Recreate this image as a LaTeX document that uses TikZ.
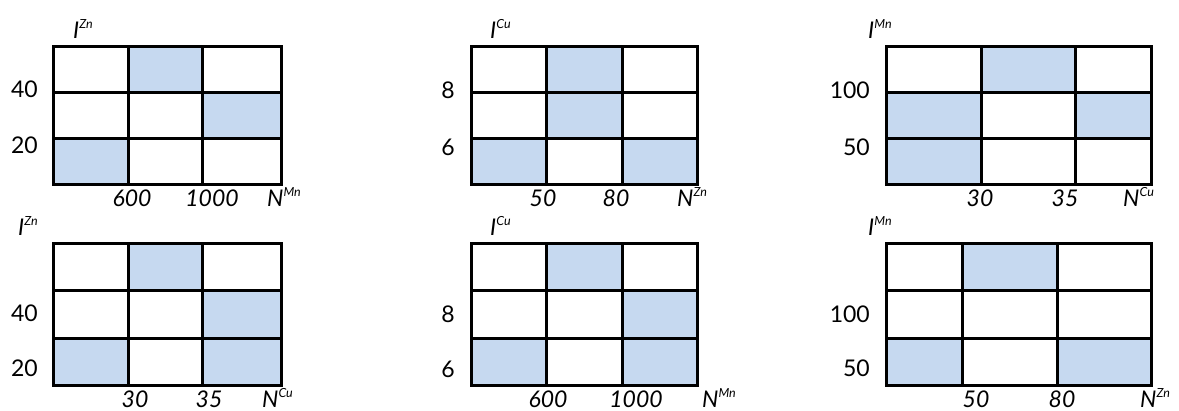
\documentclass[tikz,border=0pt]{standalone}
\usepackage{fontspec}
\setmainfont{Lato}
\definecolor{cellblue}{RGB}{198,217,240}
\newcommand{\qty}[2]{\textit{#1}\raisebox{10pt}{\fontsize{12.5}{13}\selectfont\itshape #2}}
\tikzset{
  cell/.style={fill=cellblue},
  gridline/.style={line width=3pt},
  ylab/.style={anchor=east, inner sep=0pt, font=\fontsize{23}{26}\selectfont},
  xlab/.style={anchor=base, inner sep=0pt, font=\fontsize{23}{26}\selectfont\itshape},
  axlab/.style={anchor=base west, inner sep=0pt, font=\fontsize{23}{26}\selectfont},
}
\begin{document}
\begin{tikzpicture}[x=1pt, y=-1pt]
    \useasboundingbox (0,0) rectangle (1179,410);

    % Zn against Mn
    \fill[cell] (128,46) rectangle (202,92);
    \fill[cell] (202,92) rectangle (281,138);
    \fill[cell] (53,138) rectangle (128,184);
    \draw[gridline] (53,46) rectangle (281,184);
    \foreach \x in {128,202} \draw[gridline] (\x,46) -- (\x,184);
    \foreach \y in {92,138} \draw[gridline] (53,\y) -- (281,\y);
    \node[axlab] (zmI) at (73,38) {\qty{I}{Zn}};
    \node[ylab] (zmY1) at (38,89.5) {40};
    \node[ylab] (zmY2) at (38,145.5) {20};
    \node[xlab] (zmX1) at (132,206) {600};
    \node[xlab] (zmX2) at (212,206) {1000};
    \node[axlab] (zmN) at (267,206) {\qty{N}{Mn}};

    % Zn against Cu
    \fill[cell] (128,243) rectangle (202,290);
    \fill[cell] (202,290) rectangle (281,338);
    \fill[cell] (53,338) rectangle (128,385);
    \fill[cell] (202,338) rectangle (281,385);
    \draw[gridline] (53,243) rectangle (281,385);
    \foreach \x in {128,202} \draw[gridline] (\x,243) -- (\x,385);
    \foreach \y in {290,338} \draw[gridline] (53,\y) -- (281,\y);
    \node[axlab] (zcI) at (18,235) {\qty{I}{Zn}};
    \node[ylab] (zcY1) at (38,313) {40};
    \node[ylab] (zcY2) at (38,368) {20};
    \node[xlab] (zcX1) at (135,407) {30};
    \node[xlab] (zcX2) at (209,407) {35};
    \node[axlab] (zcN) at (262,407) {\qty{N}{Cu}};

    % Cu against Zn
    \fill[cell] (546,46) rectangle (622,92);
    \fill[cell] (546,92) rectangle (622,138);
    \fill[cell] (471,138) rectangle (546,184);
    \fill[cell] (622,138) rectangle (697,184);
    \draw[gridline] (471,46) rectangle (697,184);
    \foreach \x in {546,622} \draw[gridline] (\x,46) -- (\x,184);
    \foreach \y in {92,138} \draw[gridline] (471,\y) -- (697,\y);
    \node[axlab] (czI) at (490,38) {\qty{I}{Cu}};
    \node[ylab] (czY1) at (455,90) {8};
    \node[ylab] (czY2) at (455,147) {6};
    \node[xlab] (czX1) at (543,206) {50};
    \node[xlab] (czX2) at (616,206) {80};
    \node[axlab] (czN) at (677,206) {\qty{N}{Zn}};

    % Cu against Mn
    \fill[cell] (546,243) rectangle (622,290);
    \fill[cell] (622,290) rectangle (697,338);
    \fill[cell] (471,338) rectangle (546,385);
    \fill[cell] (622,338) rectangle (697,385);
    \draw[gridline] (471,243) rectangle (697,385);
    \foreach \x in {546,622} \draw[gridline] (\x,243) -- (\x,385);
    \foreach \y in {290,338} \draw[gridline] (471,\y) -- (697,\y);
    \node[axlab] (cmI) at (490,235) {\qty{I}{Cu}};
    \node[ylab] (cmY1) at (455,314) {8};
    \node[ylab] (cmY2) at (455,369) {6};
    \node[xlab] (cmX1) at (548,407) {600};
    \node[xlab] (cmX2) at (636,407) {1000};
    \node[axlab] (cmN) at (702,407) {\qty{N}{Mn}};

    % Mn against Cu
    \fill[cell] (981,46) rectangle (1075,92);
    \fill[cell] (886,92) rectangle (981,138);
    \fill[cell] (1075,92) rectangle (1151,138);
    \fill[cell] (886,138) rectangle (981,184);
    \draw[gridline] (886,46) rectangle (1151,184);
    \foreach \x in {981,1075} \draw[gridline] (\x,46) -- (\x,184);
    \foreach \y in {92,138} \draw[gridline] (886,\y) -- (1151,\y);
    \node[axlab] (mcI) at (868,38) {\qty{I}{Mn}};
    \node[ylab] (mcY1) at (870,90) {100};
    \node[ylab] (mcY2) at (870,147) {50};
    \node[xlab] (mcX1) at (980,206) {30};
    \node[xlab] (mcX2) at (1065,206) {35};
    \node[axlab] (mcN) at (1123,206) {\qty{N}{Cu}};

    % Mn against Zn
    \fill[cell] (962,243) rectangle (1057,290);
    \fill[cell] (886,338) rectangle (962,385);
    \fill[cell] (1057,338) rectangle (1151,385);
    \draw[gridline] (886,243) rectangle (1151,385);
    \foreach \x in {962,1057} \draw[gridline] (\x,243) -- (\x,385);
    \foreach \y in {290,338} \draw[gridline] (886,\y) -- (1151,\y);
    \node[axlab] (mzI) at (868,235) {\qty{I}{Mn}};
    \node[ylab] (mzY1) at (870,314) {100};
    \node[ylab] (mzY2) at (870,368) {50};
    \node[xlab] (mzX1) at (976,407) {50};
    \node[xlab] (mzX2) at (1062,407) {80};
    \node[axlab] (mzN) at (1140,407) {\qty{N}{Zn}};
\end{tikzpicture}
\end{document}
